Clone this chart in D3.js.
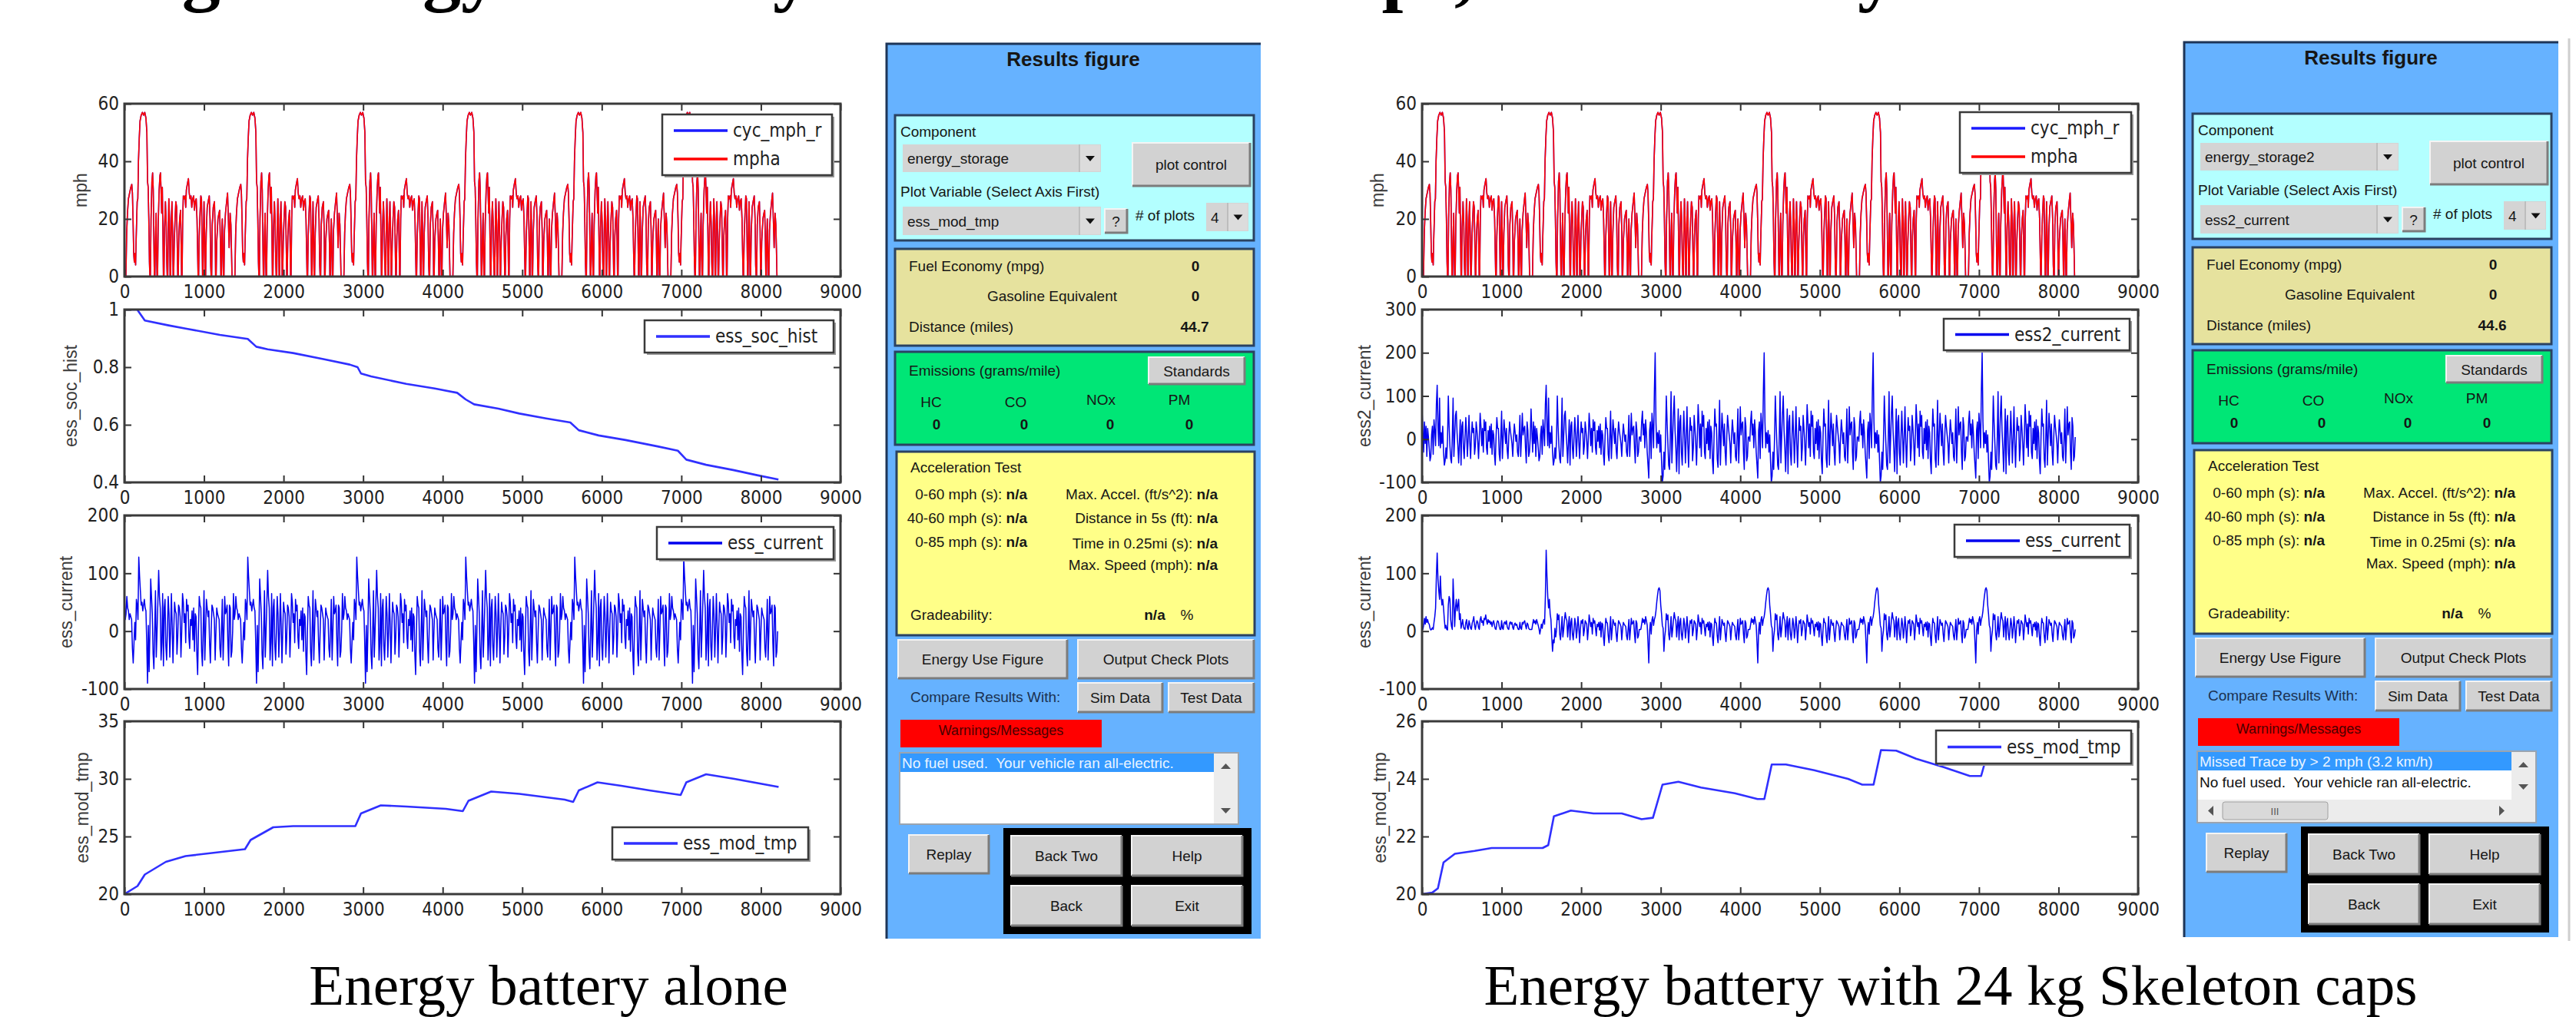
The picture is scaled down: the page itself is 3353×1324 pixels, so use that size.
<!DOCTYPE html>
<html>
<head>
<meta charset="utf-8">
<script src="https://cdn.jsdelivr.net/npm/d3@7"></script>
<style>
  html, body { margin: 0; padding: 0; background: #fff; }
  svg { display: block; }
</style>
</head>
<body>
<div id="chart"></div>
<script>
// ---- data ----
// one UDDS cycle (s, mph), the run is 6 cycles back to back
const cycleLength = 1370
const cycleCount = 6
const cycleTime = [0,18,28,38,50,65,80,92,100,108,116,124,132,140,146,152,160,168,176,186,196,210,225,240,255,270,282,290,298,306,314,320,
  326,334,345,354,362,370,376, 382,390,398,404,410, 416,424,436,446,453,460,468,476,484,490, 496,504,515,524,532,538,
  544,550,558,566,574, 580,588,597,606,612, 618,626,636,646,656,664,670, 676,684,694,705,712,718,
  724,732,740,752,762,770,778,790,804,814,824,836,846,858,870,880,890,902,912,920,926,
  932,940,950,960,968,976,982, 988,994,1000,1008,1014, 1020,1028,1040,1052,1066,1076,1084,1090,
  1096,1104,1116,1131,1140,1146, 1152,1160,1175,1188,1197,1206,1212, 1218,1224,1230,1238,1244,
  1250,1258,1270,1284,1296,1306,1316,1328,1338,1346,1352,1370]
const cycleMph = [0,0,15,22,27,29,31,32,29,20,8,5,8,4,12,18,26,27,40,48,54,56,57,56,57,55,50,33,31,20,5,0,
  0,20,33,36,30,12,0, 0,14,22,8,0, 0,18,30,35,36,30,22,31,14,0, 0,17,26,19,5,0,
  0,15,27,20,0, 0,18,26,14,0, 0,12,20,26,24,10,0, 0,14,20,23,12,0,
  0,20,28,27,28,24,30,32,34,29,27,28,24,27,28,23,26,27,20,8,0,
  0,14,22,28,27,12,0, 0,16,26,14,0, 0,15,24,26,28,20,4,0,
  0,18,24,26,16,0, 0,12,20,22,23,12,0, 0,14,20,8,0,
  0,16,22,26,29,20,10,22,18,8,0,0]

// battery current, one value every 10 s of a cycle (energy battery alone)
const currentStep = 10
const ampsAlone = [65,20,30,60,40,35,20,30,25,20, -30,-55,-20,15,-15,55,45,20,128,95,
  70,45,50,35,45,55,40,35,-20,-90, 10,-70,0,90,60,30,-40,-65,0,70,
  -45,0,50,105,60,40,-50,-20,65,-60, 40,55,-25,-50,0,60,30,-45,0,65,
  10,-55,3,50,35,30,-40,-10,45,40, 25,-45,0,65,50,15,30,-20,55,35,
  45,-10,-30,20,10,35,-15,40,-35,30, 25,-40,-75,0,60,45,40,-35,-60,2,
  70,-50,0,55,40,25,35,-20,-55,0, 45,40,30,20,-50,0,40,30,25,20,
  -30,-45,2,55,-50,0,60,30,35,45, -20,-60,45,40,-45,-35,0]

// ultracap current (ess2_current): first two cycles, then cycles 3-6
const capAmpsEarly = [70,20,-30,40,-10,30,-40,25,5,-20, -50,-40,10,30,-35,45,20,-15,80,125,
  30,-15,95,-20,15,-10,30,-30,-60,-50, -20,-45,0,100,30,-15,-45,-55,5,95,
  -40,5,55,65,15,-15,-55,-5,45,-60, 30,40,-20,-45,5,50,10,-40,5,55,
  -5,-45,5,40,15,25,-35,-15,40,20, -5,-45,5,60,30,-15,25,-30,45,20,
  40,-20,-35,20,-5,30,-20,35,-35,20, 10,-35,-60,5,50,25,25,-35,-50,5,
  65,-45,5,45,20,-10,25,-25,-45,5, 40,20,5,-10,-40,5,35,15,-5,10,
  -30,-40,5,55,-40,5,60,10,25,30, -20,-55,40,20,-40,-30,5]
const capAmpsLate = [5,-5,40,65,10,35,-20,45,15,-30, -60,-90,20,40,-45,60,30,-20,110,200,
  40,-20,15,-10,20,-30,10,-50,-100,-85, -30,-70,0,100,40,-10,-60,-70,5,110,
  -55,5,60,100,20,-20,-75,-10,70,-80, 40,55,-30,-60,5,65,10,-55,5,75,
  -10,-65,5,50,20,30,-50,-20,55,25, -10,-60,5,80,40,-20,35,-40,65,30,
  55,-30,-45,25,-10,40,-25,45,-45,30, 15,-50,-80,5,70,30,35,-45,-65,5,
  90,-60,5,60,25,-15,35,-30,-60,5, 55,30,10,-10,-55,5,45,20,-10,15,
  -40,-50,5,70,-55,5,75,10,35,40, -30,-70,50,30,-50,-40,5]

// battery current with caps: cycle 1, cycle 2, cycles 3-6
const battAmpsFirst = [2,3,10,22,12,25,15,20,14,12, 5,2,3,6,3,15,25,40,95,135,
  90,70,55,95,60,45,55,40,20,5, 10,3,2,45,60,55,20,8,3,90,
  50,8,40,55,35,45,55,20,30,5, 12,20,8,4,3,15,20,6,3,18,
  12,5,3,14,18,25,10,3,12,18, 15,6,3,20,25,15,18,10,22,20,
  28,18,12,20,15,18,12,16,8,15, 18,10,4,3,14,18,16,8,3,3,
  18,5,3,14,16,12,18,8,4,3, 14,16,12,15,6,3,12,14,10,12,
  6,3,3,15,5,3,15,12,16,18, 10,4,14,12,5,3,3]
const battAmpsSecond = [3,3,12,20,14,18,12,20,15,10, 4,-5,3,12,5,15,20,12,60,140,
  95,60,40,55,30,20,-10,-35,-15,-20, 5,-10,2,30,20,28,-5,-15,3,25,
  -10,3,20,32,22,18,-10,10,25,-15, 15,22,-5,-15,3,22,12,-12,3,25,
  8,-20,3,18,14,20,-8,2,18,15, 12,-15,3,28,18,8,15,-5,22,14,
  18,5,-8,12,8,15,2,16,-10,14, 12,-10,-25,3,22,15,14,-8,-20,3,
  25,-15,3,20,15,10,14,-5,-18,3, 18,15,12,8,-15,3,15,12,10,8,
  -8,-15,3,20,-15,3,22,12,14,18, -5,-20,18,14,-12,-8,3]
const battAmpsLate = [3,3,12,22,15,20,12,25,18,10, -20,-55,0,15,-5,20,25,10,20,25,
  35,50,62,72,75,70,45,30,10,5, -35,-10,2,30,20,28,-5,-15,3,25,
  -10,3,20,32,22,18,-10,10,25,-15, 15,22,-5,-15,3,22,12,-12,3,25,
  8,-20,3,18,14,20,-8,2,18,15, 12,-15,3,28,18,8,15,-5,22,14,
  18,5,-8,12,8,15,2,16,-10,14, 12,-10,-25,3,22,15,14,-8,-20,3,
  25,-15,3,20,15,10,14,-5,-18,3, 18,15,12,8,-15,3,15,12,10,8,
  -8,-15,3,20,-15,3,22,12,14,18, -5,-20,18,14,-12,-8,3]

// state of charge (battery alone)
const socTime = [0,160,256,555,768,1200,1550,1657,1800,2120,2500,2831,2930,2973,3100,3542,3900,4182,4289,4395,4700,4964,5300,5604,5711,5960,6300,6700,6956,7062,7311,7650,7951,8220]
const socValue = [1.0,1.0,0.962,0.945,0.934,0.912,0.898,0.871,0.862,0.849,0.828,0.809,0.8,0.778,0.768,0.742,0.726,0.711,0.688,0.671,0.656,0.639,0.622,0.608,0.581,0.563,0.547,0.525,0.51,0.479,0.461,0.443,0.425,0.41]

// module temperature
const tempTimeAlone = [0,164,256,520,768,1266,1515,1586,1870,2120,2902,2973,3222,3542,4040,4253,4324,4609,4964,5533,5640,5711,5946,6245,6600,6991,7062,7311,7667,8222]
const tempAlone = [20,20.7,21.7,22.8,23.3,23.7,23.9,24.7,25.8,25.9,25.9,27.0,27.7,27.6,27.4,27.2,28.1,28.9,28.7,28.2,28.0,29.0,29.7,29.4,29.0,28.6,29.7,30.4,30.0,29.3]
const tempTimeCaps = [0,128,199,270,413,661,875,1515,1586,1657,1870,2155,2510,2759,2902,3022,3222,3506,3932,4217,4302,4395,4573,4929,5355,5533,5675,5768,5960,6209,6565,6885,7027,7098,7170,7300,7500,7800,8000,8220]
const tempCaps = [20,20.05,20.2,21.1,21.4,21.5,21.6,21.6,21.7,22.7,22.9,22.8,22.8,22.6,22.65,23.8,23.9,23.7,23.5,23.3,23.3,24.5,24.5,24.3,24.0,23.8,23.8,25.0,24.98,24.7,24.4,24.1,24.1,24.8,25.2,25.3,25.1,24.8,24.65,24.5]

const xTicks = [0,1000,2000,3000,4000,5000,6000,7000,8000,9000]

// ---- build point lists ----
function knotCycles(times, values, count) {
    const pts = []
    for (let c = 0; c < count; c++) {
        times.forEach((t, i) => pts.push([c * cycleLength + t, values[i]]))
    }
    return pts
}

function stepCycles(cycleArrays) {
    const pts = []
    cycleArrays.forEach((arr, c) => {
        arr.forEach((v, i) => pts.push([c * cycleLength + i * currentStep, v]))
    })
    return pts
}

function pairs(times, values) {
    return times.map((t, i) => [t, values[i]])
}

const speed = knotCycles(cycleTime, cycleMph, cycleCount)
const currentAlone = stepCycles([ampsAlone, ampsAlone, ampsAlone, ampsAlone, ampsAlone, ampsAlone])
const currentCap = stepCycles([capAmpsEarly, capAmpsEarly, capAmpsLate, capAmpsLate, capAmpsLate, capAmpsLate])
const currentBatt = stepCycles([battAmpsFirst, battAmpsSecond, battAmpsLate, battAmpsLate, battAmpsLate, battAmpsLate])
const soc = pairs(socTime, socValue)
const tmpAlone = pairs(tempTimeAlone, tempAlone)
const tmpCaps = pairs(tempTimeCaps, tempCaps)

// ---- layout ----
const W = 3353, H = 1324
const rows = [[135, 360], [403, 628], [671, 897], [939, 1164]]
const tickFont = '"Liberation Sans Narrow", "DejaVu Sans Condensed", "Liberation Sans", Arial, sans-serif'
const guiFont = '"Liberation Sans", Arial, sans-serif'
const BLUE = '#1a1aff'
const RED = '#ff0000'

const leftPanel = {
    x0: 162, x1: 1094,
    plots: [
        { yDomain: [0, 60], yTicks: [0, 20, 40, 60], label: 'mph', labelDx: -57,
          series: [{ name: 'cyc_mph_r', color: BLUE, w: 1.6, data: speed }, { name: 'mpha', color: RED, w: 1.6, data: speed }],
          legend: { dx: 700, dy: 14, w: 221, h: 79 } },
        { yDomain: [0.4, 1], yTicks: [0.4, 0.6, 0.8, 1], label: 'ess_soc_hist', labelDx: -70,
          series: [{ name: 'ess_soc_hist', color: '#3030ff', w: 2.6, data: soc }],
          legend: { dx: 677, dy: 14, w: 246, h: 42 } },
        { yDomain: [-100, 200], yTicks: [-100, 0, 100, 200], label: 'ess_current', labelDx: -76,
          series: [{ name: 'ess_current', color: '#0000ee', w: 1.5, data: currentAlone }],
          legend: { dx: 693, dy: 15, w: 230, h: 42 } },
        { yDomain: [20, 35], yTicks: [20, 25, 30, 35], label: 'ess_mod_tmp', labelDx: -55,
          series: [{ name: 'ess_mod_tmp', color: '#3030ff', w: 2.6, data: tmpAlone }],
          legend: { dx: 635, dy: 138, w: 255, h: 42 } }
    ]
}

const rightPanel = {
    x0: 1851, x1: 2783,
    plots: [
        { yDomain: [0, 60], yTicks: [0, 20, 40, 60], label: 'mph', labelDx: -58,
          series: [{ name: 'cyc_mph_r', color: BLUE, w: 1.6, data: speed }, { name: 'mpha', color: RED, w: 1.6, data: speed }],
          legend: { dx: 700, dy: 11, w: 223, h: 79 } },
        { yDomain: [-100, 300], yTicks: [-100, 0, 100, 200, 300], label: 'ess2_current', labelDx: -75,
          series: [{ name: 'ess2_current', color: '#0000ee', w: 1.5, data: currentCap }],
          legend: { dx: 679, dy: 12, w: 242, h: 41 } },
        { yDomain: [-100, 200], yTicks: [-100, 0, 100, 200], label: 'ess_current', labelDx: -75,
          series: [{ name: 'ess_current', color: '#0000ee', w: 1.5, data: currentBatt }],
          legend: { dx: 693, dy: 12, w: 228, h: 42 } },
        { yDomain: [20, 26], yTicks: [20, 22, 24, 26], label: 'ess_mod_tmp', labelDx: -55,
          series: [{ name: 'ess_mod_tmp', color: '#3030ff', w: 2.6, data: tmpCaps }],
          legend: { dx: 669, dy: 12, w: 254, h: 43 } }
    ]
}

const svg = d3.select('#chart').append('svg')
    .attr('width', W)
    .attr('height', H)
    .attr('viewBox', `0 0 ${W} ${H}`)

svg.append('rect').attr('width', W).attr('height', H).attr('fill', '#fff')

let clipCount = 0

function drawPlot(left, right, row, cfg) {
    const top = row[0], bottom = row[1]
    const x = d3.scaleLinear().domain([0, 9000]).range([left, right])
    const y = d3.scaleLinear().domain(cfg.yDomain).range([bottom, top])
    const g = svg.append('g')

    const clipId = 'clip' + (clipCount++)
    g.append('clipPath').attr('id', clipId)
        .append('rect').attr('x', left).attr('y', top).attr('width', right - left).attr('height', bottom - top)

    g.append('rect').attr('x', left).attr('y', top).attr('width', right - left).attr('height', bottom - top).attr('fill', '#fff')

    const plot = g.append('g').attr('clip-path', `url(#${clipId})`)
    const line = d3.line().x(d => x(d[0])).y(d => y(d[1]))
    cfg.series.forEach(s => {
        plot.append('path')
            .datum(s.data)
            .attr('d', line)
            .attr('fill', 'none')
            .attr('stroke', s.color)
            .attr('stroke-width', s.w)
            .attr('stroke-linejoin', 'round')
    })

    const fmt = d => String(d)
    const axes = [
        g.append('g').attr('transform', `translate(0,${bottom})`)
            .call(d3.axisBottom(x).tickValues(xTicks).tickSize(-9).tickPadding(11).tickFormat(fmt)),
        g.append('g').attr('transform', `translate(0,${top})`)
            .call(d3.axisTop(x).tickValues(xTicks).tickSize(-9).tickFormat('')),
        g.append('g').attr('transform', `translate(${left},0)`)
            .call(d3.axisLeft(y).tickValues(cfg.yTicks).tickSize(-9).tickPadding(7).tickFormat(fmt)),
        g.append('g').attr('transform', `translate(${right},0)`)
            .call(d3.axisRight(y).tickValues(cfg.yTicks).tickSize(-9).tickFormat(''))
    ]
    axes.forEach(a => {
        a.select('.domain').remove()
        a.selectAll('.tick line').attr('stroke', '#333').attr('stroke-width', 2)
        a.selectAll('.tick text').attr('fill', '#222').attr('font-size', 24).attr('font-family', tickFont)
    })

    // box round the axes
    g.append('rect')
        .attr('x', left).attr('y', top).attr('width', right - left).attr('height', bottom - top)
        .attr('fill', 'none').attr('stroke', '#3a3a3a').attr('stroke-width', 3)

    // y label
    g.append('text')
        .attr('transform', `translate(${left + cfg.labelDx},${(top + bottom) / 2}) rotate(-90)`)
        .attr('text-anchor', 'middle')
        .attr('dy', '0.35em')
        .attr('font-family', guiFont)
        .attr('font-size', 23)
        .attr('fill', '#3a3a3a')
        .text(cfg.label)

    // legend
    const L = cfg.legend
    const lx = left + L.dx, ly = top + L.dy
    g.append('rect').attr('x', lx + 3).attr('y', ly + 3).attr('width', L.w).attr('height', L.h).attr('fill', '#9a9a9a')
    g.append('rect').attr('x', lx).attr('y', ly).attr('width', L.w).attr('height', L.h)
        .attr('fill', '#fff').attr('stroke', '#3a3a3a').attr('stroke-width', 2.5)
    const rowY = cfg.series.length === 1 ? [L.h / 2] : [21, 58]
    cfg.series.forEach((s, i) => {
        g.append('line')
            .attr('x1', lx + 15).attr('x2', lx + 85)
            .attr('y1', ly + rowY[i]).attr('y2', ly + rowY[i])
            .attr('stroke', s.color).attr('stroke-width', 3.5)
        g.append('text')
            .attr('x', lx + 92).attr('y', ly + rowY[i])
            .attr('dy', '0.35em')
            .attr('font-family', tickFont)
            .attr('font-size', 24)
            .attr('fill', '#222')
            .text(s.name)
    })
}

leftPanel.plots.forEach((p, i) => drawPlot(leftPanel.x0, leftPanel.x1, rows[i], p))
rightPanel.plots.forEach((p, i) => drawPlot(rightPanel.x0, rightPanel.x1, rows[i], p))

// ---- Results figure GUI ----
function label(g, x, y, txt, opt) {
    opt = opt || {}
    return g.append('text')
        .attr('x', x).attr('y', y)
        .attr('text-anchor', opt.anchor || 'start')
        .attr('font-family', guiFont)
        .attr('font-size', opt.size || 19)
        .attr('font-weight', opt.bold ? 'bold' : 'normal')
        .attr('fill', opt.color || '#161616')
        .attr('xml:space', 'preserve')
        .text(txt)
}

function box(g, x, y, w, h, fill) {
    g.append('rect').attr('x', x).attr('y', y).attr('width', w).attr('height', h)
        .attr('fill', fill).attr('stroke', '#2a4262').attr('stroke-width', 3)
}

function button(g, x, y, w, h, txt) {
    g.append('rect').attr('x', x).attr('y', y).attr('width', w).attr('height', h).attr('fill', '#d2d2d2')
    g.append('path').attr('d', `M${x},${y + h} V${y} H${x + w}`).attr('fill', 'none').attr('stroke', '#f4f4f4').attr('stroke-width', 2)
    g.append('path').attr('d', `M${x},${y + h} H${x + w} V${y}`).attr('fill', 'none').attr('stroke', '#7c7c7c').attr('stroke-width', 3)
    label(g, x + w / 2, y + h / 2 + 7, txt, { anchor: 'middle' })
}

function dropdown(g, x, y, w, h, txt, arrowW) {
    arrowW = arrowW || 28
    g.append('rect').attr('x', x).attr('y', y).attr('width', w).attr('height', h).attr('fill', '#d4d4d4')
    g.append('rect').attr('x', x + w - arrowW).attr('y', y + 1).attr('width', arrowW - 1).attr('height', h - 2).attr('fill', '#dcdcdc')
    g.append('line').attr('x1', x + w - arrowW).attr('x2', x + w - arrowW).attr('y1', y).attr('y2', y + h).attr('stroke', '#bdbdbd').attr('stroke-width', 2)
    const ax = x + w - arrowW / 2, ay = y + h / 2
    g.append('path').attr('d', `M${ax - 6},${ay - 3} L${ax + 6},${ay - 3} L${ax},${ay + 4} Z`).attr('fill', '#111')
    label(g, x + 6, y + h / 2 + 7, txt)
}

function drawGui(ox, oy, info) {
    const g = svg.append('g').attr('transform', `translate(${ox},${oy})`)
    g.append('rect').attr('width', 487).attr('height', 1165).attr('fill', '#66b2ff')
    g.append('path').attr('d', 'M0,1165 V0 H487').attr('fill', 'none').attr('stroke', '#1d3558').attr('stroke-width', 3)

    label(g, 243, 29, 'Results figure', { size: 26, bold: true, anchor: 'middle' })

    // component selection
    box(g, 11, 93, 467, 163, '#b3ffff')
    label(g, 18, 121, 'Component')
    dropdown(g, 21, 131, 258, 36, info.component)
    button(g, 320, 129, 153, 56, 'plot control')
    label(g, 18, 199, 'Plot Variable (Select Axis First)')
    dropdown(g, 21, 212, 258, 37, info.variable)
    button(g, 284, 215, 29, 31, '?')
    label(g, 324, 230, '# of plots')
    dropdown(g, 416, 207, 55, 37, '4', 27)

    // fuel economy
    box(g, 11, 267, 467, 126, '#e6e29e')
    label(g, 29, 296, 'Fuel Economy (mpg)')
    label(g, 402, 296, '0', { bold: true, anchor: 'middle' })
    label(g, 131, 335, 'Gasoline Equivalent')
    label(g, 402, 335, '0', { bold: true, anchor: 'middle' })
    label(g, 29, 375, 'Distance (miles)')
    label(g, 401, 375, info.distance, { bold: true, anchor: 'middle' })

    // emissions
    box(g, 11, 401, 467, 121, '#00e676')
    label(g, 29, 432, 'Emissions (grams/mile)')
    button(g, 341, 408, 125, 35, 'Standards')
    const gases = ['HC', 'CO', 'NOx', 'PM']
    const gasX = [58, 168, 279, 381]
    const gasY = [473, 473, 470, 470]
    const valX = [65, 179, 291, 394]
    gases.forEach((s, i) => {
        label(g, gasX[i], gasY[i], s, { anchor: 'middle' })
        label(g, valX[i], 502, '0', { bold: true, anchor: 'middle' })
    })

    // acceleration test
    box(g, 13, 531, 466, 239, '#ffff88')
    label(g, 31, 558, 'Acceleration Test')
    const leftRows = ['0-60 mph (s): ', '40-60 mph (s): ', '0-85 mph (s): ']
    const leftY = [593, 624, 655]
    leftRows.forEach((s, i) => {
        const t = label(g, 183, leftY[i], s, { anchor: 'end' })
        t.append('tspan').attr('font-weight', 'bold').text('n/a')
    })
    const rightRows = ['Max. Accel. (ft/s^2): ', 'Distance in 5s (ft): ', 'Time in 0.25mi (s): ', 'Max. Speed (mph): ']
    const rightY = [593, 624, 657, 685]
    rightRows.forEach((s, i) => {
        const t = label(g, 431, rightY[i], s, { anchor: 'end' })
        t.append('tspan').attr('font-weight', 'bold').text('n/a')
    })
    label(g, 31, 750, 'Gradeability:')
    label(g, 349, 750, 'n/a', { bold: true, anchor: 'middle' })
    label(g, 391, 750, '%', { anchor: 'middle' })

    // buttons
    button(g, 15, 776, 220, 50, 'Energy Use Figure')
    button(g, 249, 776, 229, 50, 'Output Check Plots')
    label(g, 31, 857, 'Compare Results With:', { color: '#1b3150' })
    button(g, 249, 832, 110, 38, 'Sim Data')
    button(g, 367, 832, 111, 38, 'Test Data')

    // warnings
    g.append('rect').attr('x', 18).attr('y', 880).attr('width', 262).attr('height', 36).attr('fill', '#ff0000')
    label(g, 149, 900, 'Warnings/Messages', { anchor: 'middle', size: 18, color: '#4a0000' })

    g.append('rect').attr('x', 17).attr('y', 923).attr('width', 441).attr('height', 93)
        .attr('fill', '#fff').attr('stroke', '#9aa4b0').attr('stroke-width', 2)
    g.append('rect').attr('x', 18).attr('y', 924).attr('width', 408).attr('height', 24).attr('fill', '#3399ff')
    info.messages.forEach((m, i) => {
        label(g, 20, 943 + i * 27, m, { color: i === 0 ? '#eaf4ff' : '#111' })
    })
    const sbBottom = info.hscroll ? 986 : 1015
    g.append('rect').attr('x', 426).attr('y', 924).attr('width', 31).attr('height', sbBottom - 924).attr('fill', '#ececec')
    g.append('path').attr('d', `M435,${944} L448,${944} L441.5,${937} Z`).attr('fill', '#555')
    g.append('path').attr('d', `M435,${sbBottom - 20} L448,${sbBottom - 20} L441.5,${sbBottom - 13} Z`).attr('fill', '#555')
    if (info.hscroll) {
        g.append('rect').attr('x', 18).attr('y', 986).attr('width', 439).attr('height', 29).attr('fill', '#ececec')
        g.append('rect').attr('x', 50).attr('y', 989).attr('width', 137).attr('height', 23).attr('rx', 3)
            .attr('fill', '#d9d9d9').attr('stroke', '#a0a0a0')
        label(g, 118, 1006, 'III', { anchor: 'middle', size: 13, color: '#555' })
        g.append('path').attr('d', 'M38,994 L38,1007 L31,1000.5 Z').attr('fill', '#555')
        g.append('path').attr('d', 'M410,994 L410,1007 L417,1000.5 Z').attr('fill', '#555')
    }

    button(g, 29, 1030, 104, 50, 'Replay')
    g.append('rect').attr('x', 152).attr('y', 1021).attr('width', 323).attr('height', 138).attr('fill', '#000')
    button(g, 162, 1031, 144, 52, 'Back Two')
    button(g, 319, 1031, 144, 52, 'Help')
    button(g, 162, 1096, 144, 52, 'Back')
    button(g, 319, 1096, 144, 52, 'Exit')
}

drawGui(1154, 57, {
    component: 'energy_storage',
    variable: 'ess_mod_tmp',
    distance: '44.7',
    messages: ['No fuel used.  Your vehicle ran all-electric.'],
    hscroll: false
})
drawGui(2843, 55, {
    component: 'energy_storage2',
    variable: 'ess2_current',
    distance: '44.6',
    messages: ['Missed Trace by > 2 mph (3.2 km/h)', 'No fuel used.  Your vehicle ran all-electric.'],
    hscroll: true
})

// window edge on the far right
svg.append('line').attr('x1', 3344).attr('x2', 3344).attr('y1', 50).attr('y2', 1225)
    .attr('stroke', '#cfcfcf').attr('stroke-width', 3)

// slide heading, only its lower part is inside the frame (as in the screenshot)
const headingWords = ['Single', 'Energy', 'Battery', 'with Caps,', 'Battery']
const headingEnds = [359, 650, 1056, 1918, 2468]
headingWords.forEach((w, i) => {
    svg.append('text')
        .attr('x', headingEnds[i]).attr('y', -4)
        .attr('text-anchor', 'end')
        .attr('font-family', '"Liberation Serif", "Times New Roman", serif')
        .attr('font-weight', 'bold')
        .attr('font-size', 100)
        .attr('fill', '#000')
        .text(w)
})

// captions
const captions = ['Energy battery alone', 'Energy battery with 24 kg Skeleton caps']
const captionX = [714, 2539]
captions.forEach((c, i) => {
    svg.append('text')
        .attr('x', captionX[i]).attr('y', 1308)
        .attr('text-anchor', 'middle')
        .attr('font-family', '"Liberation Serif", "Times New Roman", serif')
        .attr('font-size', 75)
        .attr('fill', '#000')
        .text(c)
})
</script>
</body>
</html>
